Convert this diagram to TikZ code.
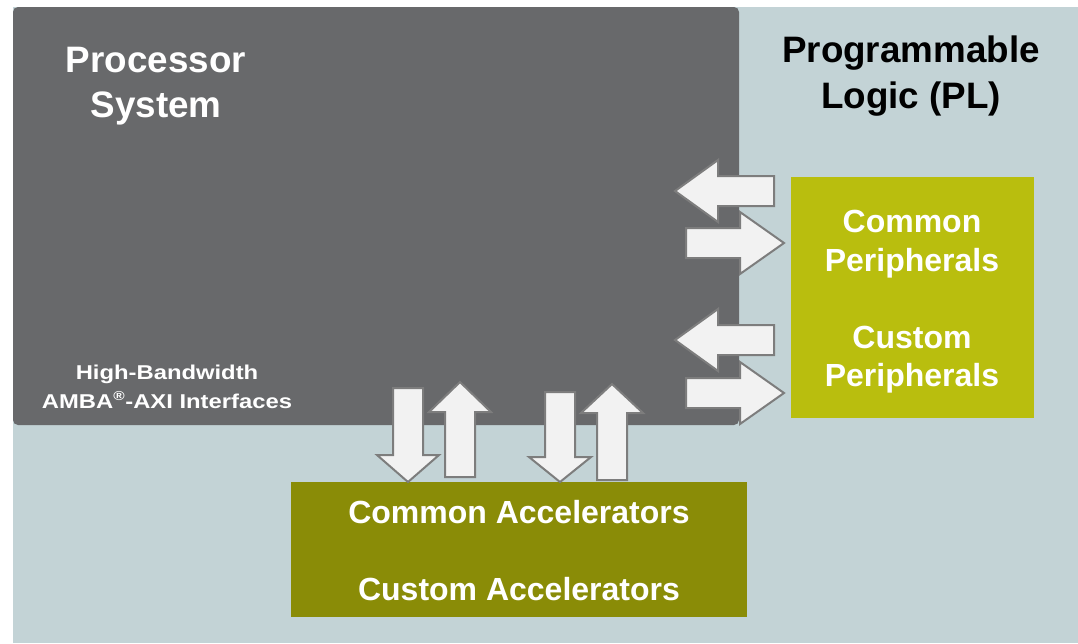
\documentclass[tikz,border=0pt]{standalone}
\usepackage{fontspec}
\setmainfont{Liberation Sans}
\definecolor{plbg}{RGB}{195,211,214}
\definecolor{psgrey}{RGB}{104,105,107}
\definecolor{periph}{RGB}{185,190,14}
\definecolor{accel}{RGB}{138,140,7}
\definecolor{arrfill}{RGB}{242,242,242}
\definecolor{arrline}{RGB}{125,125,125}
\tikzset{
  boxnode/.style={anchor=north west, inner sep=0pt, outer sep=0pt, draw=none},
  lbl/.style={anchor=base, inner sep=0pt, text=white, font=\bfseries\fontsize{32}{36}\selectfont},
  biglbl/.style={anchor=base, inner sep=0pt, font=\bfseries\fontsize{36.8}{40}\selectfont},
  smalllbl/.style={anchor=base, inner sep=0pt, text=white, font=\bfseries\fontsize{20}{24}\selectfont},
  blockarr/.style={fill=arrfill, draw=arrline, line width=2pt, line join=miter},
}
\begin{document}
\begin{tikzpicture}[x=1pt,y=-1pt]
\useasboundingbox (0,0) rectangle (1078,643);
% background (Programmable Logic)
\fill[plbg] (13,7) rectangle (1078,643);
% Processor system
\node[boxnode, fill=psgrey, rounded corners=5pt, minimum width=726pt, minimum height=418pt] (ps) at (13,7) {};
% Peripherals box
\node[boxnode, fill=periph, minimum width=243pt, minimum height=241pt] (per) at (791,177) {};
% Accelerators box
\node[boxnode, fill=accel, minimum width=456pt, minimum height=135pt] (acc) at (291,482) {};

% texts
\node[biglbl, text=white] (t1) at (156,72) {Processor};
\node[biglbl, text=white] (t2) at (156,117) {System};
\node[biglbl, text=black] (t3) at (911,62) {Programmable};
\node[biglbl, text=black] (t4) at (911,108) {Logic (PL)};
\node[lbl] (t5) at (912,232) {Common};
\node[lbl] (t6) at (912,271) {Peripherals};
\node[lbl] (t7) at (912,348) {Custom};
\node[lbl] (t8) at (912,386) {Peripherals};
\node[lbl] (t9) at (519,523) {Common Accelerators};
\node[lbl] (t10) at (519,600) {Custom Accelerators};
\node[smalllbl] (t11) at (167,379) {\scalebox{1.19}[1]{High-Bandwidth}};
\node[smalllbl] (t12) at (167,408) {\scalebox{1.19}[1]{AMBA\textsuperscript{\fontsize{13}{14}\selectfont ®}-AXI Interfaces}};

% horizontal block arrows (PS <-> peripherals)
\draw[blockarr] (774,176) -- (718,176) -- (718,160) -- (675,191) -- (718,222) -- (718,206) -- (774,206) -- cycle;
\draw[blockarr] (686,228) -- (740,228) -- (740,212) -- (784,243) -- (740,274) -- (740,258) -- (686,258) -- cycle;
\draw[blockarr] (774,325) -- (718,325) -- (718,309) -- (675,340) -- (718,371) -- (718,355) -- (774,355) -- cycle;
\draw[blockarr] (686,378) -- (740,378) -- (740,362) -- (784,393) -- (740,424) -- (740,408) -- (686,408) -- cycle;

% vertical block arrows (PS <-> accelerators)
\draw[blockarr] (393,388) -- (423,388) -- (423,455) -- (439,455) -- (408,482) -- (377,455) -- (393,455) -- cycle;
\draw[blockarr] (445,477) -- (445,412) -- (429,412) -- (460,382) -- (491,412) -- (475,412) -- (475,477) -- cycle;
\draw[blockarr] (545,392) -- (575,392) -- (575,457) -- (591,457) -- (560,482) -- (529,457) -- (545,457) -- cycle;
\draw[blockarr] (597,480) -- (597,413) -- (581,413) -- (612,384) -- (643,413) -- (627,413) -- (627,480) -- cycle;
\end{tikzpicture}
\end{document}
